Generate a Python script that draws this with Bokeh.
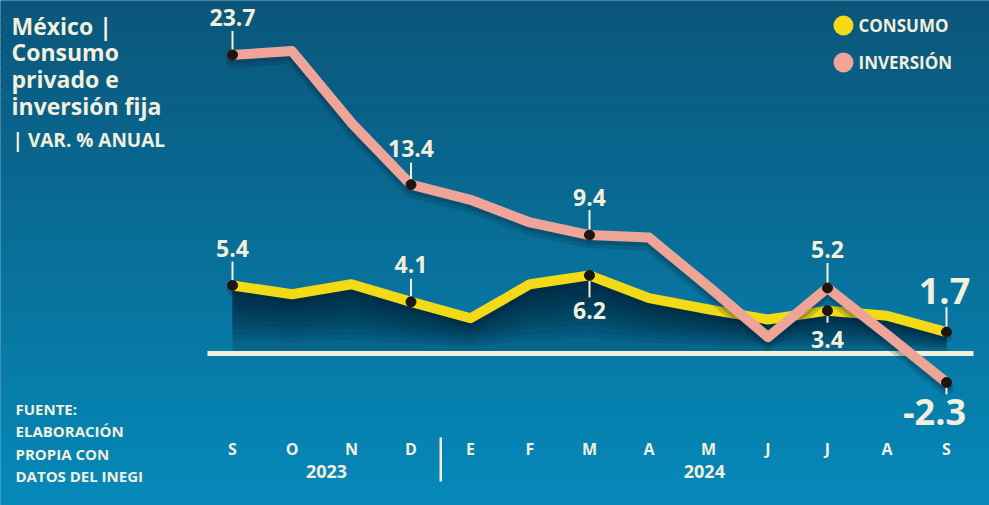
import numpy as np
from bokeh.plotting import figure
from bokeh.models import Range1d
from bokeh.embed import file_html
from bokeh.resources import INLINE
from bokeh.core.properties import value

# ---------------- data ----------------
months = ["S", "O", "N", "D", "E", "F", "M", "A", "M", "J", "J", "A", "S"]
years = ["2023", "2024"]
consumo = [5.4, 4.7, 5.5, 4.1, 2.8, 5.5, 6.2, 4.4, 3.5, 2.7, 3.4, 3.0, 1.7]
inversion = [23.7, 24.0, 18.3, 13.4, 12.2, 10.4, 9.4, 9.2, 5.3, 1.3, 5.2, 1.5, -2.3]
consumo_labels = {0: "5.4", 3: "4.1", 6: "6.2", 10: "3.4", 12: "1.7"}
inversion_labels = {0: "23.7", 3: "13.4", 6: "9.4", 10: "5.2", 12: "-2.3"}
title_lines = ["México |", "Consumo", "privado e", "inversión fija"]
subtitle = "| VAR. % ANUAL"
legend_names = ["CONSUMO", "INVERSIÓN"]
source_lines = ["FUENTE:", "ELABORACIÓN", "PROPIA CON", "DATOS DEL INEGI"]

# ---------------- layout helpers ----------------
W, H = 989, 505
X0PX, XSTEP = 232.0, 59.5      # pixel of first month, pixels per month
Y0PX, YSTEP = 353.0, 12.6      # pixel of zero line, pixels per unit


def X(px):
    return (px - X0PX) / XSTEP


def Y(py):
    return (Y0PX - py) / YSTEP


def DY(dpx):
    return dpx / YSTEP


CREAM = "#f2efdc"
PINK = "#eea598"
YELLOW = "#f3da16"
DOT = "#1c1512"
FONT = "Open Sans"

p = figure(width=W, height=H, x_range=Range1d(X(0), X(W)), y_range=Range1d(Y(H), Y(0)),
           x_axis_type=None, y_axis_type=None, toolbar_location=None,
           output_backend="svg", min_border=0)
p.outline_line_color = None
p.grid.visible = False
p.background_fill_color = "#0a6d95"
p.border_fill_color = "#0a6d95"

# ---------------- background gradient ----------------
nb = 64
top_c = np.array([11, 86, 122])
bot_c = np.array([6, 138, 186])
edges = np.linspace(0, H, nb + 1)
cols = []
for i in range(nb):
    t = (i + 0.5) / nb
    c = (top_c * (1 - t) + bot_c * t).astype(int)
    cols.append("#%02x%02x%02x" % tuple(c))
p.quad(left=X(-5), right=X(W + 5), top=[Y(e - 0.6) for e in edges[:-1]],
       bottom=[Y(e + 0.6) for e in edges[1:]], fill_color=cols, line_color=None)

xs = list(range(len(months)))
cons = np.array(consumo)

# ---------------- shaded area under consumo ----------------
p.varea(x=xs, y1=[0] * len(xs), y2=consumo, fill_color="#052233", fill_alpha=0.22)
nl = 10
for k in range(nl):
    lower = cons * (1 - (k + 1) / nl * 0.8)
    p.varea(x=xs, y1=list(lower), y2=consumo, fill_color="#041c2a", fill_alpha=0.11)

# zero line
p.line(x=[X(207), X(973)], y=[0, 0], line_color=CREAM, line_width=5)

# ---------------- lines ----------------
p.line(x=xs, y=list(cons - DY(4)), line_color="#06263a", line_alpha=0.22, line_width=12,
       line_join="round", line_cap="round")
p.line(x=xs, y=consumo, line_color=YELLOW, line_width=10, line_join="round", line_cap="round")

inv = np.array(inversion)
p.line(x=xs, y=list(inv - DY(6)), line_color="#06263a", line_alpha=0.18, line_width=14,
       line_join="round", line_cap="round")
p.line(x=xs, y=list(inv - DY(3)), line_color="#06263a", line_alpha=0.22, line_width=12,
       line_join="round", line_cap="round")
p.line(x=xs, y=inversion, line_color=PINK, line_width=10, line_join="round", line_cap="round")

# ---------------- value labels, stems, dots ----------------
# idx -> (text center offset px (+up), stem end px, dx px, big)
label_cfg = [
    (inversion, inversion_labels, {0: (37, 24, 0, False), 3: (36, 22, 0, False),
                                   6: (38, 25, 0, False), 10: (38, 25, 0, False),
                                   12: (-30, -12, -12, True)}),
    (consumo, consumo_labels, {0: (37, 24, 0, False), 3: (37, 23, 0, False),
                               6: (-35, -22, 0, False), 10: (-29, -12, 0, False),
                               12: (41, 25, -2, True)}),
]
small = dict(x=[], y=[], t=[])
big = dict(x=[], y=[], t=[])
sx0, sy0, sx1, sy1 = [], [], [], []
dx_, dy_ = [], []
for series, labels, cfg in label_cfg:
    for idx, txt in labels.items():
        off, stem, dxp, isbig = cfg[idx]
        v = series[idx]
        d = big if isbig else small
        d["x"].append(idx + dxp / XSTEP)
        d["y"].append(v + DY(off))
        d["t"].append(txt)
        sx0.append(idx); sx1.append(idx)
        sy0.append(v); sy1.append(v + DY(stem))
        dx_.append(idx); dy_.append(v)

p.segment(x0=sx0, y0=sy0, x1=sx1, y1=sy1, line_color=CREAM, line_width=2)
p.scatter(x=dx_, y=dy_, marker="circle", size=10, fill_color=DOT, line_color=DOT)
p.text(x=small["x"], y=small["y"], text=small["t"], text_color=CREAM,
       text_font=value(FONT), text_font_style="bold", text_font_size="23px",
       text_align="center", text_baseline="middle")
p.text(x=big["x"], y=big["y"], text=big["t"], text_color=CREAM,
       text_font=value(FONT), text_font_style="bold", text_font_size="36px",
       text_align="center", text_baseline="middle")

# ---------------- x axis labels ----------------
p.text(x=xs, y=[Y(448)] * len(xs), text=months, text_color=CREAM, text_font=value(FONT),
       text_font_style="bold", text_font_size="16px", text_align="center",
       text_baseline="middle")
p.text(x=[1.58, 7.93], y=[Y(471)] * 2, text=years, text_color=CREAM, text_font=value(FONT),
       text_font_style="bold", text_font_size="18px", text_align="center",
       text_baseline="middle")
p.segment(x0=[3.5], y0=[Y(437)], x1=[3.5], y1=[Y(481)], line_color=CREAM, line_width=2.5)

# ---------------- title ----------------
p.text(x=[X(11)] * len(title_lines), y=[Y(25 + 26.8 * i) for i in range(len(title_lines))],
       text=title_lines, text_color=CREAM, text_font=value(FONT), text_font_style="bold",
       text_font_size="23px", text_align="left", text_baseline="middle")
p.text(x=[X(12)], y=[Y(139)], text=[subtitle], text_color=CREAM, text_font=value(FONT),
       text_font_style="bold", text_font_size="19px", text_align="left",
       text_baseline="middle")

# ---------------- legend ----------------
p.scatter(x=[X(843)] * 2, y=[Y(25), Y(62)], marker="circle", size=20,
          fill_color=[YELLOW, PINK], line_color=None)
p.text(x=[X(858)] * 2, y=[Y(25), Y(62)], text=legend_names, text_color=CREAM,
       text_font=value(FONT), text_font_style="bold", text_font_size="17px",
       text_align="left", text_baseline="middle")

# ---------------- source ----------------
p.text(x=[X(15)] * len(source_lines), y=[Y(408 + 22.5 * i) for i in range(len(source_lines))],
       text=source_lines, text_color=CREAM, text_font=value(FONT), text_font_style="bold",
       text_font_size="15px", text_align="left", text_baseline="middle")

open("out.html", "w").write(file_html(p, INLINE))
